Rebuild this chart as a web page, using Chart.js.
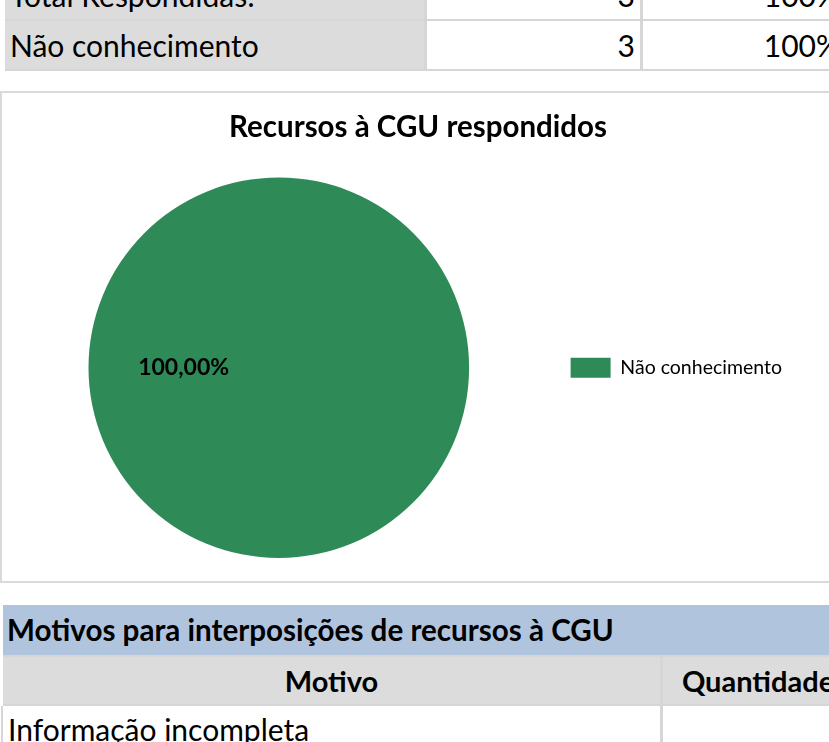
<!DOCTYPE html>
<html lang="pt-BR">
<head>
<meta charset="utf-8">
<title>Recursos à CGU respondidos</title>
<script src="https://cdn.jsdelivr.net/npm/chart.js@4.4.1/dist/chart.umd.min.js"></script>
<style>
    html, body {
        margin: 0;
        padding: 0;
        background: #fff;
    }
    body {
        width: 829px;
        height: 742px;
        overflow: hidden;
        position: relative;
        font-family: 'Lato', 'Liberation Sans', sans-serif;
        color: #000;
    }
    .cell {
        position: absolute;
        box-sizing: border-box;
        white-space: nowrap;
        overflow: hidden;
        font-size: 30px;
        padding: 0 5px;
    }
    .gray { background: #dcdcdc; }
    .blue { background: #b0c4de; font-size: 29.6px !important; padding-left: 4px; }
    .bold { font-weight: bold; font-size: 29px; }
    .right { text-align: right; }
    .center { text-align: center; }
    .hline, .vline {
        position: absolute;
        background: #d6d6d6;
    }
    #chart-box {
        position: absolute;
        left: 0;
        top: 91px;
        width: 836px;
        height: 488px;
        border: 2px solid #d9d9d9;
        background: #fff;
    }
    #pie-chart {
        display: block;
    }
</style>
</head>
<body>

<div id="chart-box">
    <canvas id="pie-chart" width="836" height="488"></canvas>
</div>

<script>
// Data
const categories = ['Não conhecimento'];
const quantities = [3];
const sliceColors = ['#2e8b57'];

const summaryLabels = ['Total Respondidas:', 'Não conhecimento'];
const summaryCounts = [3, 3];
const summaryPercents = ['100%', '100%'];

const reasonsTitle = 'Motivos para interposições de recursos à CGU';
const reasonsHeaders = ['Motivo', 'Quantidade'];
const reasonsRows = ['Informação incompleta'];

const FONT = "'Lato', 'Liberation Sans', sans-serif";

// --- tables (plain html) ---

function addCell(x, y, w, h, text, cls) {
    const el = document.createElement('div');
    el.className = 'cell ' + (cls || '');
    el.style.left = x + 'px';
    el.style.top = y + 'px';
    el.style.width = w + 'px';
    el.style.height = h + 'px';
    el.style.lineHeight = h + 'px';
    el.textContent = text;
    document.body.appendChild(el);
}

function addLine(cls, x, y, w, h) {
    const el = document.createElement('div');
    el.className = cls;
    el.style.left = x + 'px';
    el.style.top = y + 'px';
    el.style.width = w + 'px';
    el.style.height = h + 'px';
    document.body.appendChild(el);
}

function buildSummaryTable() {
    const rowTop = [-29, 21];
    summaryLabels.forEach((label, i) => {
        const y = rowTop[i];
        addCell(5, y, 419, 48, label, 'gray');
        addCell(427, y, 213, 48, String(summaryCounts[i]), 'right');
        addCell(643, y, 202, 48, summaryPercents[i], 'right');
        addLine('hline', 5, y + 48, 850, 2);
    });
    addLine('vline', 424, -29, 3, 100);
    addLine('vline', 640, -29, 3, 100);
}

function buildReasonsTable() {
    addCell(3, 605, 860, 50, reasonsTitle, 'blue bold');
    addLine('hline', 3, 655, 860, 2);
    addCell(3, 657, 657, 47, reasonsHeaders[0], 'gray bold center');
    addCell(663, 657, 190, 47, reasonsHeaders[1], 'gray bold center');
    addLine('vline', 660, 657, 3, 100);
    addLine('hline', 3, 704, 860, 2);
    reasonsRows.forEach((label, i) => {
        addCell(3, 706 + i * 48, 657, 46, label, '');
    });
    addLine('vline', 1, 706, 2, 40);
}

buildSummaryTable();
buildReasonsTable();

// --- pie chart ---

function formatPercent(value, total) {
    return (value / total * 100).toFixed(2).replace('.', ',') + '%';
}

const sliceLabels = {
    id: 'sliceLabels',
    afterDatasetsDraw(chart) {
        const { ctx } = chart;
        const meta = chart.getDatasetMeta(0);
        const data = chart.data.datasets[0].data;
        const total = data.reduce((a, b) => a + b, 0);
        ctx.save();
        ctx.font = 'bold 23px ' + FONT;
        ctx.fillStyle = '#000';
        ctx.textAlign = 'center';
        ctx.textBaseline = 'middle';
        meta.data.forEach((arc, i) => {
            const pos = arc.tooltipPosition();
            ctx.fillText(formatPercent(data[i], total), pos.x, pos.y);
        });
        ctx.restore();
    }
};

const pieChart = new Chart(document.getElementById('pie-chart'), {
    type: 'pie',
    data: {
        labels: categories,
        datasets: [{
            data: quantities,
            backgroundColor: sliceColors,
            borderWidth: 0
        }]
    },
    options: {
        responsive: false,
        animation: false,
        rotation: 90,
        layout: {
            padding: { left: 42, right: 46, top: 0, bottom: 23 }
        },
        plugins: {
            title: {
                display: true,
                text: 'Recursos à CGU respondidos',
                color: '#000',
                font: { family: FONT, size: 29.5, weight: 'bold' },
                padding: { top: 17, bottom: 32 }
            },
            legend: {
                position: 'right',
                fullSize: false,
                labels: {
                    boxWidth: 40,
                    boxHeight: 20,
                    padding: 57,
                    color: '#000',
                    font: { family: FONT, size: 19.5 }
                }
            },
            tooltip: { enabled: false }
        }
    },
    plugins: [sliceLabels]
});
</script>
</body>
</html>
